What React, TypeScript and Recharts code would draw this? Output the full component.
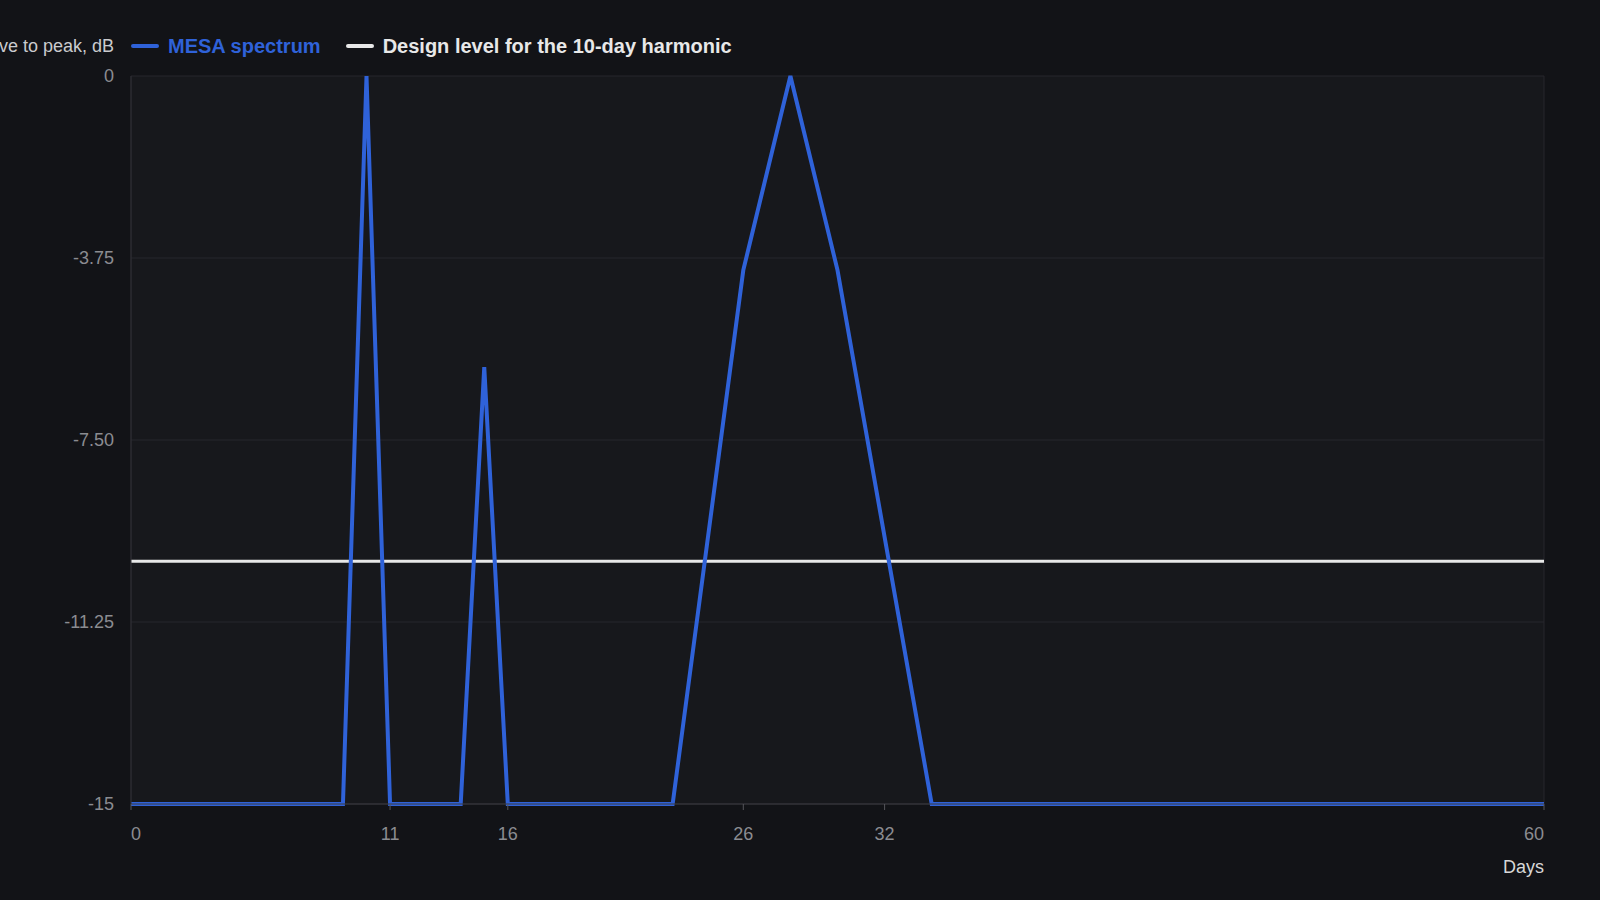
import { CartesianGrid, Line, LineChart, XAxis, YAxis } from 'recharts';

// MESA spectrum, dB relative to the strongest peak
const days = [0, 9, 10, 11, 14, 15, 16, 23, 26, 28, 30, 34, 60];
const mesaDb = [-15, -15, 0, -15, -15, -6, -15, -15, -4, 0, -4, -15, -15];

// design level for the 10-day harmonic
const designDays = [0, 60];
const designDb = [-10, -10];

const xTicks = [0, 11, 16, 26, 32, 60];
const yTicks = [-15, -11.25, -7.5, -3.75, 0];

const BLUE = '#2f62d9';
const WHITE = '#e8e8e8';
const BG = '#121317';
const PLOT_BG = '#17181c';
const GRID = '#26272c';
const TICK = '#8b8c91';

const mesaData = days.map((d, i) => ({ day: d, db: mesaDb[i] }));
const designData = designDays.map((d, i) => ({ day: d, db: designDb[i] }));

const series = [
  { label: 'MESA spectrum', color: BLUE },
  { label: 'Design level for the 10-day harmonic', color: WHITE },
];

const fmtY = (v: number) => (Number.isInteger(v) ? String(v) : v.toFixed(2));

// first and last day labels sit inside the plot edges
function DayTick({ x, y, payload, index }: any) {
  const last = xTicks.length - 1;
  const anchor = index === 0 ? 'start' : index === last ? 'end' : 'middle';
  return (
    <text x={x} y={y} dy="0.71em" textAnchor={anchor} fill={TICK} fontSize={18}>
      {payload.value}
    </text>
  );
}

function ChartLegend() {
  return (
    <div style={{ position: 'absolute', left: 131, top: 34, display: 'flex', alignItems: 'center', gap: 25 }}>
      {series.map((it) => (
        <div key={it.label} style={{ display: 'flex', alignItems: 'center', gap: 9 }}>
          <span
            style={{ width: 28, height: 4, borderRadius: 2, background: it.color, display: 'inline-block' }}
          />
          <span style={{ color: it.color, fontWeight: 700, fontSize: 20, lineHeight: '24px' }}>{it.label}</span>
        </div>
      ))}
    </div>
  );
}

export default function App() {
  return (
    <div
      style={{
        position: 'absolute',
        left: 0,
        top: 0,
        width: 1600,
        height: 900,
        background: BG,
        fontFamily: '"Liberation Sans", Arial, sans-serif',
      }}
    >
      <LineChart width={1600} height={900} margin={{ top: 76, right: 56, bottom: 36, left: 0 }}>
        <CartesianGrid
          fill={PLOT_BG}
          stroke={GRID}
          verticalCoordinatesGenerator={({ offset }: any) => [offset.left, offset.left + offset.width]}
        />
        <XAxis
          type="number"
          dataKey="day"
          domain={[0, 60]}
          ticks={xTicks}
          height={60}
          tick={<DayTick />}
          tickSize={6}
          tickMargin={17}
          tickLine={{ stroke: '#55565b' }}
          axisLine={{ stroke: '#3a3b40' }}
          allowDuplicatedCategory={false}
          label={{
            content: () => (
              <text x={1544} y={873} textAnchor="end" fill="#d8d8d8" fontSize={18}>
                Days
              </text>
            ),
          }}
        />
        <YAxis
          type="number"
          domain={[-15, 0]}
          ticks={yTicks}
          width={131}
          tickFormatter={fmtY}
          tick={{ fill: TICK, fontSize: 18 }}
          tickSize={0}
          tickMargin={17}
          axisLine={{ stroke: '#2e2f34' }}
          tickLine={false}
          label={{
            content: () => (
              <text x={114} y={52} textAnchor="end" fill="#cacbce" fontSize={18}>
                Power relative to peak, dB
              </text>
            ),
          }}
        />
        <Line
          data={designData}
          dataKey="db"
          name={series[1].label}
          stroke={WHITE}
          strokeWidth={3}
          dot={false}
          activeDot={false}
          isAnimationActive={false}
        />
        <Line
          data={mesaData}
          dataKey="db"
          name={series[0].label}
          stroke={BLUE}
          strokeWidth={4}
          dot={false}
          activeDot={false}
          isAnimationActive={false}
        />
      </LineChart>
      <ChartLegend />
    </div>
  );
}
